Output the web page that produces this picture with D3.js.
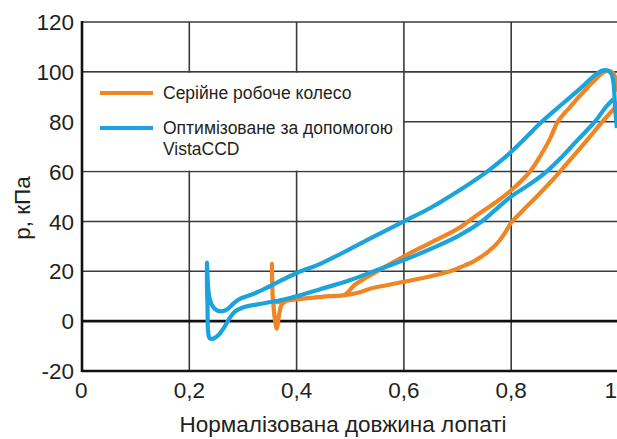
<!DOCTYPE html>
<html>
<head>
<meta charset="utf-8">
<script src="https://cdn.jsdelivr.net/npm/d3@7"></script>
<style>
  html, body { margin: 0; padding: 0; background: #ffffff; }
  svg { display: block; }
  text { font-family: "Liberation Sans", Arial, sans-serif; fill: #231f20; }
</style>
</head>
<body>
<svg id="chart" width="617" height="439"></svg>
<script>
// Tick values and labels
const xTicks = [0, 0.2, 0.4, 0.6, 0.8, 1];
const xTickLabels = ["0", "0,2", "0,4", "0,6", "0,8", "1"];
const yTicks = [-20, 0, 20, 40, 60, 80, 100, 120];
const yTickLabels = ["-20", "0", "20", "40", "60", "80", "100", "120"];

// Series names
const seriesNames = ["Серійне робоче колесо", "Оптимізоване за допомогою\nVistaCCD"];

// Baseline impeller: pressure around the blade contour (normalised length, kPa)
const serialX = [1.000, 0.997, 0.989, 0.970, 0.941, 0.915, 0.891, 0.870, 0.850, 0.820, 0.800, 0.790, 0.775, 0.755, 0.730, 0.705, 0.692, 0.650, 0.600, 0.570, 0.537, 0.518, 0.490,
  0.460, 0.440, 0.400, 0.380, 0.372, 0.367, 0.363, 0.360, 0.357, 0.355, 0.354,
  0.355, 0.357, 0.362, 0.380, 0.420, 0.460, 0.490, 0.508, 0.530, 0.550, 0.600, 0.650, 0.700, 0.736, 0.770, 0.800, 0.835, 0.855, 0.872, 0.887, 0.910, 0.935, 0.955, 0.970, 0.980, 0.990, 0.996, 1.000];
const serialP = [88.0, 86.5, 84.6, 80.0, 72.5, 66.0, 60.0, 55.0, 50.5, 44.0, 39.5, 36.0, 31.5, 27.5, 24.0, 21.6, 20.4, 18.0, 15.8, 14.5, 13.0, 11.6, 10.4,
  10.0, 9.6, 8.8, 8.0, 6.5, 2.0, -3.0, 0.0, 6.0, 12.0, 23.0,
  12.0, 8.0, 7.6, 8.2, 9.2, 10.0, 10.6, 14.5, 17.5, 20.0, 26.0, 31.5, 37.0, 42.5, 47.5, 52.5, 60.0, 66.5, 73.0, 80.0, 86.0, 92.0, 96.5, 99.5, 100.5, 99.5, 96.0, 92.0];

// VistaCCD-optimised impeller
const optimX = [0.990, 0.975, 0.956, 0.923, 0.895, 0.866, 0.835, 0.800, 0.770, 0.745, 0.700, 0.650, 0.600, 0.550, 0.500, 0.444, 0.388, 0.340, 0.300, 0.285, 0.276, 0.265, 0.255, 0.245, 0.238, 0.235, 0.234, 0.233, 0.233,
  0.235, 0.238, 0.245, 0.253, 0.262, 0.272, 0.283, 0.295, 0.320, 0.350, 0.400, 0.444, 0.500, 0.531, 0.600, 0.650, 0.700, 0.755, 0.790, 0.822, 0.857, 0.900, 0.935, 0.955, 0.970, 0.980, 0.987, 0.991, 0.993, 0.995, 0.997];
const optimP = [89.0, 85.5, 80.0, 72.5, 66.0, 60.0, 55.0, 50.0, 44.5, 40.0, 34.0, 29.0, 24.5, 20.5, 16.5, 12.8, 9.3, 7.2, 5.5, 3.8, 1.5, -2.5, -5.5, -7.0, -6.8, -4.0, 5.0, 15.0, 23.5,
  14.0, 9.0, 5.5, 4.2, 4.0, 5.0, 7.2, 9.0, 11.0, 14.0, 19.3, 23.0, 29.0, 32.5, 40.0, 45.5, 52.0, 60.0, 66.0, 72.5, 80.0, 88.0, 94.5, 98.5, 100.5, 100.5, 99.0, 95.0, 88.0, 82.0, 77.5];

const colors = ["#ef8523", "#1aa3dd"];

const W = 617;
const svg = d3.select("#chart");
const x = d3.scaleLinear().domain([0, 1]).range([82, 618.5]);
const y = d3.scaleLinear().domain([-20, 120]).range([371, 22]);

// Grid
const grid = svg.append("g");
grid.selectAll("line.v").data(xTicks.slice(1)).join("line")
  .attr("x1", d => x(d)).attr("x2", d => x(d))
  .attr("y1", y(120)).attr("y2", y(-20))
  .attr("stroke", "#3a3a3a").attr("stroke-width", 1.6);
grid.selectAll("line.h").data(yTicks.filter(d => d !== -20 && d !== 0)).join("line")
  .attr("x1", x(0)).attr("x2", W)
  .attr("y1", d => y(d)).attr("y2", d => y(d))
  .attr("stroke", "#3a3a3a").attr("stroke-width", 1.6);

// Legend panel sits in the upper-left grid cells
svg.append("rect")
  .attr("x", x(0) + 1).attr("y", y(100) + 1)
  .attr("width", x(0.6) - x(0) - 2).attr("height", y(60) - y(100) - 2)
  .attr("fill", "#ffffff");

// Zero line and axes
svg.append("line").attr("x1", x(0)).attr("x2", W).attr("y1", y(0)).attr("y2", y(0))
  .attr("stroke", "#111").attr("stroke-width", 2.6);
svg.append("line").attr("x1", x(0)).attr("x2", W).attr("y1", y(-20)).attr("y2", y(-20))
  .attr("stroke", "#111").attr("stroke-width", 2.6);
svg.append("line").attr("x1", x(0)).attr("x2", x(0)).attr("y1", y(120) - 1).attr("y2", y(-20) + 1)
  .attr("stroke", "#111").attr("stroke-width", 2.6);

// Tick labels
svg.append("g").selectAll("text").data(yTicks).join("text")
  .attr("x", 74).attr("y", d => y(d)).attr("dy", "0.36em")
  .attr("text-anchor", "end").attr("font-size", 22.5)
  .text((d, i) => yTickLabels[i]);
svg.append("g").selectAll("text").data(xTicks).join("text")
  .attr("x", d => d === 0 ? 75 : d === 1 ? W : x(d))
  .attr("y", 398)
  .attr("text-anchor", d => d === 0 ? "start" : d === 1 ? "end" : "middle")
  .attr("font-size", 22.5)
  .text((d, i) => xTickLabels[i]);

// Axis titles
svg.append("text").attr("x", 343).attr("y", 432).attr("text-anchor", "middle")
  .attr("font-size", 22.5).text("Нормалізована довжина лопаті");
svg.append("text").attr("transform", "translate(30,208) rotate(-90)")
  .attr("text-anchor", "middle").attr("font-size", 22.5).text("р, кПа");

// Pressure curves
const line = d3.line()
  .x(d => x(d[0])).y(d => y(d[1]))
  .curve(d3.curveCatmullRom.alpha(0.5));
const series = [
  d3.zip(serialX, serialP),
  d3.zip(optimX, optimP)
];
svg.append("g").selectAll("path").data(series).join("path")
  .attr("d", line)
  .attr("fill", "none")
  .attr("stroke", (d, i) => colors[i])
  .attr("stroke-width", 4.2)
  .attr("stroke-linejoin", "round")
  .attr("stroke-linecap", "butt");

// Legend
const legend = svg.append("g");
const legendY = [93, 128];
seriesNames.forEach((name, i) => {
  legend.append("line")
    .attr("x1", 100).attr("x2", 153)
    .attr("y1", legendY[i]).attr("y2", legendY[i])
    .attr("stroke", colors[i]).attr("stroke-width", 4);
  const t = legend.append("text").attr("x", 163).attr("y", legendY[i] + 6).attr("font-size", 17.5);
  name.split("\n").forEach((part, k) => {
    t.append("tspan").attr("x", 163).attr("dy", k === 0 ? 0 : 21).text(part);
  });
});
</script>
</body>
</html>
